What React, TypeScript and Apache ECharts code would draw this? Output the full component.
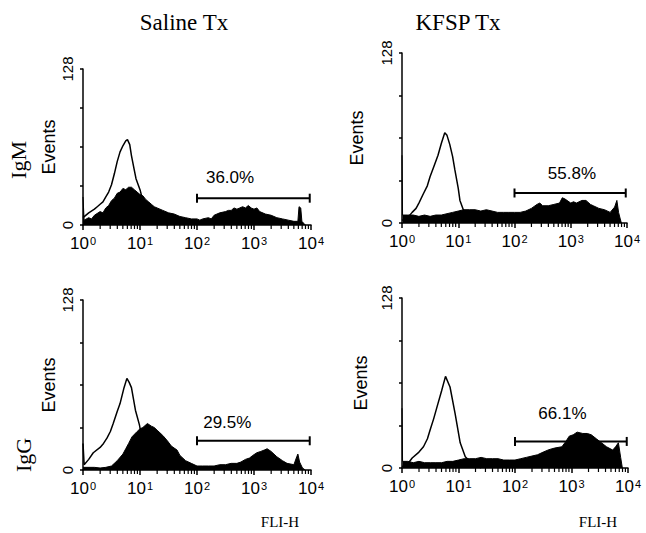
import React, { useEffect, useRef } from 'react';
import * as echarts from 'echarts';

// Column / row captions
const columnTitles = ['Saline Tx', 'KFSP Tx'];
const rowTitles = ['IgM', 'IgG'];
const xAxisTitle = 'FLI-H';
const yAxisTitle = 'Events';

// Gate (marker) labels and levels, one per panel: Saline IgM, KFSP IgM, Saline IgG, KFSP IgG
const gateLabels = ['36.0%', '55.8%', '29.5%', '66.1%'];
const gateLevels = [22, 22.6, 22, 20];
const gateStart = 100;
const gateEnd = 9500;

// Histogram data: [log10(FL1-H), events]
// Panel 1: Saline, IgM
const salineIgMControl = [
  [0, 6], [0.1, 10], [0.2, 13], [0.25, 15], [0.3, 17], [0.35, 19], [0.4, 23], [0.45, 27], [0.5, 33],
  [0.55, 42], [0.6, 52], [0.65, 60], [0.7, 65], [0.75, 69], [0.78, 70], [0.82, 66], [0.85, 57],
  [0.9, 45], [0.93, 38], [1.0, 29], [1.05, 20], [1.1, 13], [1.2, 6], [1.3, 2], [1.5, 0]
];
const salineIgMStained = [
  [0, 23], [0.02, 4], [0.1, 6], [0.15, 5], [0.2, 8], [0.3, 11], [0.35, 10], [0.4, 14], [0.45, 16],
  [0.5, 20], [0.55, 22], [0.6, 26], [0.65, 27], [0.7, 30], [0.75, 29], [0.8, 31], [0.85, 31], [0.9, 29],
  [0.95, 27], [1.0, 25], [1.05, 24], [1.1, 21], [1.15, 19], [1.2, 17], [1.25, 15], [1.3, 14],
  [1.4, 12], [1.5, 10], [1.6, 9], [1.7, 7], [1.8, 6], [1.9, 5], [2.0, 5], [2.05, 4], [2.1, 5],
  [2.2, 6], [2.25, 5], [2.3, 8], [2.4, 10], [2.5, 11], [2.55, 12], [2.6, 12], [2.65, 14], [2.7, 13],
  [2.75, 14], [2.8, 15], [2.85, 14], [2.9, 16], [2.95, 14], [3.0, 13], [3.05, 14], [3.1, 11],
  [3.2, 9], [3.3, 8], [3.4, 6], [3.5, 5], [3.6, 4], [3.7, 3], [3.77, 3], [3.79, 15], [3.82, 14],
  [3.84, 3], [3.88, 1], [3.9, 0]
];
// Panel 2: KFSP, IgM
const kfspIgMControl = [
  [0, 2], [0.1, 4], [0.18, 8], [0.25, 11], [0.3, 15], [0.38, 22], [0.45, 28], [0.5, 35], [0.57, 43],
  [0.64, 51], [0.7, 60], [0.76, 68], [0.8, 66], [0.85, 59], [0.9, 50], [0.94, 40], [1.0, 26],
  [1.03, 17], [1.09, 10], [1.15, 6], [1.3, 0]
];
const kfspIgMStained = [
  [0, 51], [0.01, 6], [0.1, 6], [0.2, 6], [0.3, 5], [0.4, 6], [0.5, 5], [0.6, 6], [0.7, 6],
  [0.8, 7], [0.9, 8], [1.0, 9], [1.1, 10], [1.2, 10], [1.3, 10], [1.4, 9], [1.5, 10], [1.6, 9],
  [1.7, 8], [1.8, 8], [1.9, 8], [2.0, 8], [2.1, 8], [2.2, 9], [2.3, 11], [2.4, 14], [2.45, 15],
  [2.5, 13], [2.6, 13], [2.7, 14], [2.8, 15], [2.85, 19], [2.9, 18], [3.0, 15], [3.05, 16],
  [3.1, 15], [3.2, 17], [3.27, 17], [3.35, 14], [3.4, 13], [3.5, 11], [3.6, 10], [3.7, 8],
  [3.78, 12], [3.82, 17], [3.85, 8], [3.88, 3], [3.9, 0]
];
// Panel 3: Saline, IgG
const salineIgGControl = [
  [0, 20], [0.02, 4], [0.1, 8], [0.18, 13], [0.3, 17], [0.36, 20], [0.42, 24], [0.48, 29], [0.53, 35],
  [0.6, 44], [0.65, 50], [0.72, 62], [0.77, 69], [0.81, 66], [0.85, 62], [0.92, 45], [0.99, 34],
  [1.05, 20], [1.15, 8], [1.3, 2], [1.5, 0]
];
const salineIgGStained = [
  [0, 2], [0.2, 2], [0.3, 1.5], [0.4, 2], [0.5, 3], [0.6, 7], [0.7, 12], [0.75, 16], [0.8, 20],
  [0.86, 25], [0.95, 29], [1.0, 31], [1.05, 32], [1.13, 35], [1.2, 33], [1.25, 32], [1.3, 30],
  [1.35, 28], [1.4, 26], [1.48, 22], [1.55, 18], [1.65, 15], [1.7, 11], [1.8, 7], [1.9, 5],
  [2.0, 3], [2.1, 3], [2.2, 3], [2.3, 3], [2.4, 4], [2.5, 4], [2.6, 5], [2.7, 5], [2.77, 6],
  [2.85, 8], [2.92, 9], [2.98, 11], [3.05, 13], [3.12, 14], [3.18, 15], [3.23, 16], [3.3, 14],
  [3.4, 10], [3.5, 7], [3.58, 5], [3.7, 4], [3.75, 10], [3.77, 12], [3.8, 6], [3.85, 1.5], [3.9, 0]
];
// Panel 4: KFSP, IgG
const kfspIgGControl = [
  [0, 1], [0.1, 3], [0.18, 7.5], [0.3, 12], [0.38, 16], [0.45, 22], [0.5, 29], [0.56, 37], [0.62, 46],
  [0.7, 58], [0.77, 69], [0.85, 61], [0.94, 41], [1.03, 19], [1.12, 8.5], [1.2, 5], [1.4, 0]
];
const kfspIgGStained = [
  [0, 45], [0.01, 5], [0.1, 5], [0.2, 4], [0.3, 5], [0.4, 4], [0.5, 4], [0.6, 4], [0.7, 4],
  [0.8, 5], [0.9, 5], [1.0, 6], [1.1, 7], [1.2, 7], [1.3, 7], [1.4, 8], [1.5, 7], [1.6, 7],
  [1.7, 7], [1.8, 6], [1.9, 6], [2.0, 6], [2.1, 7], [2.2, 8], [2.3, 9], [2.4, 10], [2.5, 12],
  [2.6, 13.8], [2.7, 15], [2.83, 16], [2.9, 20], [2.96, 24], [3.03, 25], [3.1, 27], [3.2, 26],
  [3.28, 26], [3.35, 25], [3.44, 22], [3.5, 20], [3.62, 16], [3.73, 13.5], [3.78, 16], [3.83, 19],
  [3.87, 8], [3.9, 0]
];

const controls = [salineIgMControl, kfspIgMControl, salineIgGControl, kfspIgGControl];
const stained = [salineIgMStained, kfspIgMStained, salineIgGStained, kfspIgGStained];

// Axis values
const yTickLabels = [0, 128];
const minorTickValues = [2, 3, 4, 5, 6, 7, 8, 9, 20, 30, 40, 50, 60, 70, 80, 90,
  200, 300, 400, 500, 600, 700, 800, 900, 2000, 3000, 4000, 5000, 6000, 7000, 8000, 9000];

// Layout (pixels)
const grids = [
  { left: 83, top: 69, width: 228, height: 156 },
  { left: 402, top: 53, width: 225, height: 170 },
  { left: 83, top: 300, width: 228, height: 170 },
  { left: 402, top: 298, width: 226, height: 170 },
];
const nameGaps = [25, 36, 25, 32];
// gate label anchor [FL1, events]
const gateLabelAnchors = [[380, 38.6], [1050, 37.6], [340, 36], [690, 40.7]];

const SANS = '"Liberation Sans", Arial, sans-serif';
const SERIF = '"Liberation Serif", "Times New Roman", serif';

export default function App() {
  const ref = useRef<HTMLDivElement>(null);
  useEffect(() => {
    if (!ref.current) return;
    const chart = echarts.init(ref.current, undefined, { renderer: 'svg' });
    const toXY = (arr: number[][]) => arr.map(([e, v]) => [Math.pow(10, e), v]);

    const xAxes = grids.map((_, i) => ({
      type: 'log',
      logBase: 10,
      gridIndex: i,
      min: 1,
      max: 10000,
      axisLine: { show: true, lineStyle: { color: '#000', width: 1.5 } },
      axisTick: { show: true, inside: false, length: 5, lineStyle: { color: '#000', width: 1.5 } },
      minorTick: { show: false },
      splitLine: { show: false },
      axisLabel: {
        show: true,
        margin: 10,
        color: '#000',
        fontFamily: SANS,
        formatter: (v: number) => '{b|10}{sup|' + Math.round(Math.log10(v)) + '}',
        rich: {
          b: { fontSize: 17, lineHeight: 17, padding: [5, 0, 0, 0], verticalAlign: 'bottom', fontFamily: SANS, color: '#000' },
          sup: { fontSize: 11, lineHeight: 12, verticalAlign: 'top', fontFamily: SANS, color: '#000', padding: [0, 0, 0, 1] },
        },
      },
    }));
    const yAxes = grids.map((_, i) => ({
      type: 'value',
      gridIndex: i,
      min: 0,
      max: 128,
      interval: 32,
      name: yAxisTitle,
      nameLocation: 'middle',
      nameRotate: 90,
      nameGap: nameGaps[i],
      nameTextStyle: { fontFamily: SANS, fontSize: 18, color: '#000' },
      axisLine: { show: true, lineStyle: { color: '#000', width: 1.5 } },
      axisTick: { show: true, inside: false, length: 3, lineStyle: { color: '#000', width: 1.5 } },
      splitLine: { show: false },
      axisLabel: {
        rotate: 90,
        margin: 8,
        fontFamily: SANS,
        fontSize: 15,
        color: '#000',
        formatter: (v: number) => (yTickLabels.includes(v) ? String(v) : ''),
      },
    }));

    const series: any[] = [];
    grids.forEach((_, i) => {
      series.push({
        type: 'line', xAxisIndex: i, yAxisIndex: i, data: toXY(controls[i]),
        symbol: 'none', lineStyle: { color: '#000', width: 1.5 }, z: 2, silent: true,
      });
      series.push({
        type: 'line', xAxisIndex: i, yAxisIndex: i, data: toXY(stained[i]),
        symbol: 'none', lineStyle: { color: '#000', width: 1 },
        areaStyle: { color: '#000', opacity: 1 }, z: 3, silent: true,
      });
      series.push({
        type: 'line', xAxisIndex: i, yAxisIndex: i,
        data: [[gateStart, gateLevels[i]], [gateEnd, gateLevels[i]]],
        symbol: 'none', lineStyle: { color: '#000', width: 2 }, z: 4, silent: true,
      });
      series.push({
        type: 'scatter', xAxisIndex: i, yAxisIndex: i,
        data: [[gateStart, gateLevels[i]], [gateEnd, gateLevels[i]]],
        symbol: 'rect', symbolSize: [2, 9], itemStyle: { color: '#000', opacity: 1 }, z: 4, silent: true, clip: false,
      });
      series.push({
        type: 'scatter', xAxisIndex: i, yAxisIndex: i,
        data: [{ value: gateLabelAnchors[i], label: { formatter: gateLabels[i] } }],
        symbol: 'circle', symbolSize: 0, itemStyle: { color: '#000', opacity: 1 },
        label: { show: true, position: 'inside', fontFamily: SANS, fontSize: 17, color: '#000', textBorderWidth: 0 },
        z: 5, silent: true, clip: false,
      });
      series.push({
        type: 'scatter', xAxisIndex: i, yAxisIndex: i,
        data: minorTickValues.map((v) => [v, 0]),
        symbol: 'rect', symbolSize: [1.2, 4], symbolOffset: [0, 2],
        itemStyle: { color: '#000', opacity: 1 }, z: 1, silent: true, clip: false,
      });
    });

    const textEl = (text: string, x: number, y: number, font: string, rotation = 0) => ({
      type: 'text', x, y, rotation,
      style: {
        text, font, fill: '#000',
        align: 'center', verticalAlign: 'middle',
        textAlign: 'center', textVerticalAlign: 'middle',
      },
    });

    chart.setOption({
      animation: false,
      backgroundColor: '#fff',
      grid: grids.map((g) => ({ ...g, containLabel: false })),
      xAxis: xAxes,
      yAxis: yAxes,
      series,
      graphic: [
        textEl(columnTitles[0], 184, 22, `23px ${SERIF}`),
        textEl(columnTitles[1], 458, 22, `23px ${SERIF}`),
        textEl(rowTitles[0], 18, 160, `22px ${SERIF}`, Math.PI / 2),
        textEl(rowTitles[1], 23, 455, `22px ${SERIF}`, Math.PI / 2),
        textEl(xAxisTitle, 280, 522, `15px ${SERIF}`),
        textEl(xAxisTitle, 598, 522, `15px ${SERIF}`),
      ],
    });
    return () => chart.dispose();
  }, []);
  return <div ref={ref} style={{ position: 'absolute', left: 0, top: 0, width: 646, height: 533 }} />;
}
